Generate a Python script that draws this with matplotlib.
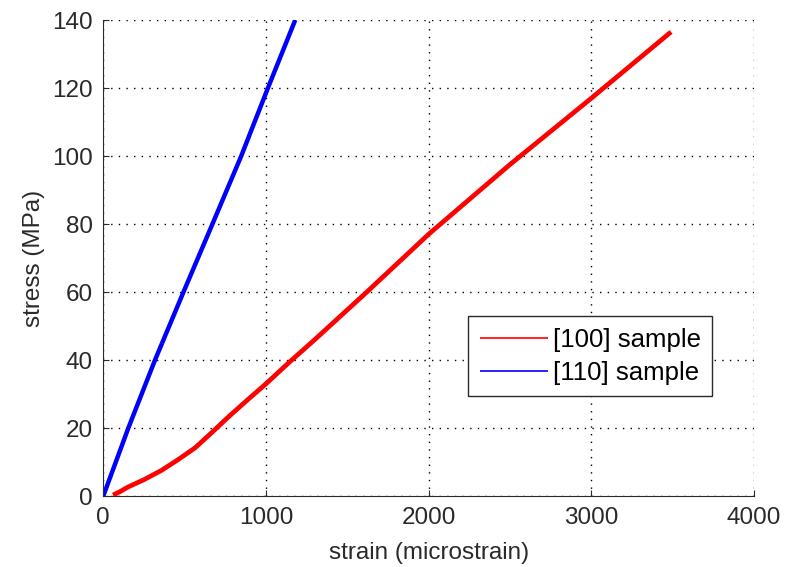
import matplotlib
matplotlib.use("Agg")
import matplotlib.pyplot as plt

# strain in microstrain, stress in MPa
strain_100 = [60, 100, 150, 250, 360, 460, 565, 670, 770, 880, 1000, 1140,
              1300, 1620, 2000, 2500, 3000, 3490]
stress_100 = [0.3, 1.2, 2.6, 4.8, 7.6, 10.7, 14.2, 18.8, 23.3, 28.0, 33.0, 39.2,
              46.0, 60.0, 77.0, 97.5, 117.0, 136.5]

strain_110 = [0, 154, 318, 493, 671, 848, 1012, 1180]
stress_110 = [0, 20, 40, 60, 80, 100, 120, 140]

labels = ["[100] sample", "[110] sample"]
xticks = [0, 1000, 2000, 3000, 4000]
yticks = [0, 20, 40, 60, 80, 100, 120, 140]

plt.rcParams['font.family'] = ['Liberation Sans', 'DejaVu Sans']
plt.rcParams['font.size'] = 17.5
txt = '#2a2a2a'

fig = plt.figure(figsize=(7.86, 5.67), dpi=100)
ax = fig.add_axes([0.1314, 0.1252, 0.8279, 0.8395])

ax.plot(strain_100, stress_100, color='#ff0000', lw=3.4, solid_capstyle='butt',
        label=labels[0])
ax.plot(strain_110, stress_110, color='#0000ff', lw=3.2, solid_capstyle='butt',
        label=labels[1])

ax.set_xlim(0, 4000)
ax.set_ylim(0, 140)
ax.set_xticks(xticks)
ax.set_yticks(yticks)
ax.tick_params(direction='in', length=4, width=0.8, colors=txt, labelcolor=txt)
ax.tick_params(axis='x', pad=8)
ax.tick_params(axis='y', pad=7.5)

# matlab style: no box on top/right, dotted grid
ax.spines['top'].set_visible(False)
ax.spines['right'].set_visible(False)
ax.spines['left'].set_color(txt)
ax.spines['bottom'].set_color(txt)
ax.grid(True, color='black', linestyle=(0, (1, 4.5)), linewidth=1.0)
ax.set_axisbelow(True)

ax.set_xlabel("strain (microstrain)", color=txt, labelpad=9)
ax.set_ylabel("stress (MPa)", color=txt, labelpad=5)

leg = ax.legend(loc='upper left', bbox_to_anchor=(0.5605, 0.378),
                borderaxespad=0, fancybox=False, framealpha=1,
                edgecolor=txt, fontsize=18.5, handlelength=2.65,
                handletextpad=0.2, borderpad=0.45, labelspacing=0.35)
leg.get_frame().set_linewidth(1.0)
for line in leg.get_lines():
    line.set_linewidth(1.2)

fig.savefig("out.png", dpi=100)
